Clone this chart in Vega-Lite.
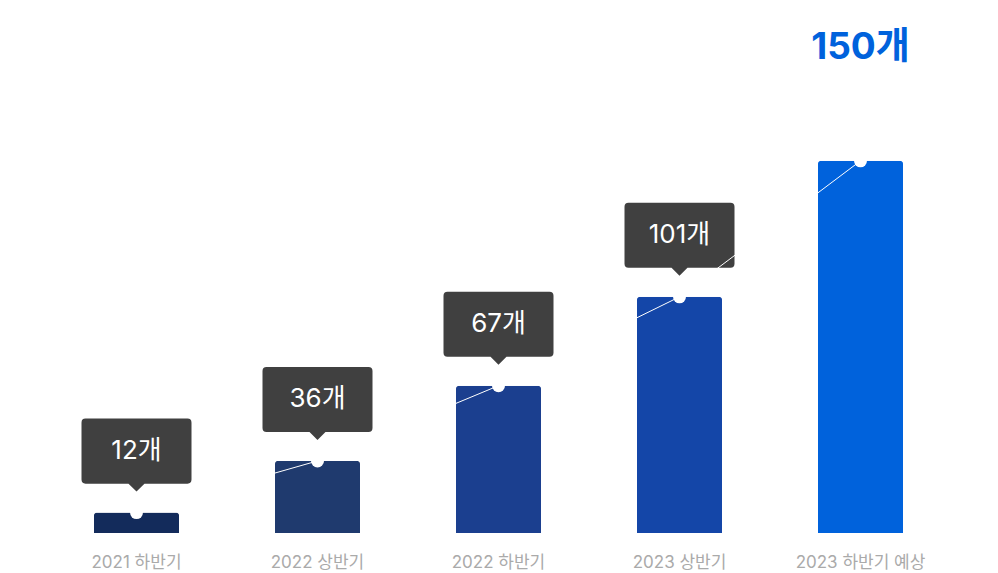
{
  "$schema": "https://vega.github.io/schema/vega-lite/v6.json",
  "autosize": {"type": "none"},
  "width": 905,
  "height": 533,
  "padding": {"left": 46, "top": 0, "right": 47, "bottom": 40},
  "background": "#ffffff",
  "config": {"view": {"stroke": null}, "font": "Inter, Noto Sans CJK KR"},
  "data": {
    "values": [
      {"period": "2021 하반기", "value": 12, "label": "12개", "kind": "actual"},
      {"period": "2022 상반기", "value": 36, "label": "36개", "kind": "actual"},
      {"period": "2022 하반기", "value": 67, "label": "67개", "kind": "actual"},
      {"period": "2023 상반기", "value": 101, "label": "101개", "kind": "actual"},
      {"period": "2023 하반기 예상", "value": 150, "label": "150개", "kind": "forecast"}
    ]
  },
  "encoding": {
    "x": {
      "field": "period", "type": "nominal", "sort": null,
      "scale": {"paddingInner": 0.53, "paddingOuter": 0.265},
      "axis": {
        "title": null, "domain": false, "ticks": false, "labelAngle": 0,
        "labelColor": "#aaaaaa", "labelFontSize": 17, "labelPadding": 21,
        "labelFont": "Inter, Noto Sans CJK KR"
      }
    },
    "y": {
      "field": "value", "type": "quantitative",
      "scale": {"type": "pow", "exponent": 1.15, "domain": [0, 205], "nice": false, "zero": true},
      "axis": null
    }
  },
  "layer": [
    {
      "mark": {"type": "bar", "cornerRadiusTopLeft": 3, "cornerRadiusTopRight": 3},
      "encoding": {
        "color": {
          "field": "period", "type": "nominal", "sort": null, "legend": null,
          "scale": {"range": ["#132B5B", "#1F3A6E", "#1B3F8F", "#1446A8", "#0062DC"]}
        }
      }
    },
    {
      "transform": [{"filter": "datum.kind === 'actual'"}],
      "mark": {
        "type": "point", "filled": true, "opacity": 1, "color": "#404040", "strokeWidth": 0,
        "size": 12100,
        "shape": "M -0.927 -1.709 L 0.927 -1.709 Q 1 -1.709 1 -1.636 L 1 -0.6 Q 1 -0.527 0.927 -0.527 L 0.145 -0.527 L 0 -0.382 L -0.145 -0.527 L -0.927 -0.527 Q -1 -0.527 -1 -0.6 L -1 -1.636 Q -1 -1.709 -0.927 -1.709 Z"
      }
    },
    {
      "mark": {"type": "line", "color": "#ffffff", "strokeWidth": 1},
      "encoding": {}
    },
    {
      "mark": {"type": "point", "shape": "circle", "filled": true, "opacity": 1, "color": "#ffffff", "size": 169, "strokeWidth": 0}
    },
    {
      "transform": [{"filter": "datum.kind === 'actual'"}],
      "mark": {"type": "text", "color": "#ffffff", "fontSize": 26, "baseline": "middle", "dy": -62, "font": "Inter, Noto Sans CJK KR"},
      "encoding": {"text": {"field": "label"}}
    },
    {
      "transform": [{"filter": "datum.kind === 'forecast'"}],
      "mark": {"type": "text", "color": "#0062DC", "fontSize": 37, "fontWeight": "bold", "baseline": "middle", "dy": -113, "font": "Inter, Noto Sans CJK KR"},
      "encoding": {"text": {"field": "label"}}
    }
  ]
}
